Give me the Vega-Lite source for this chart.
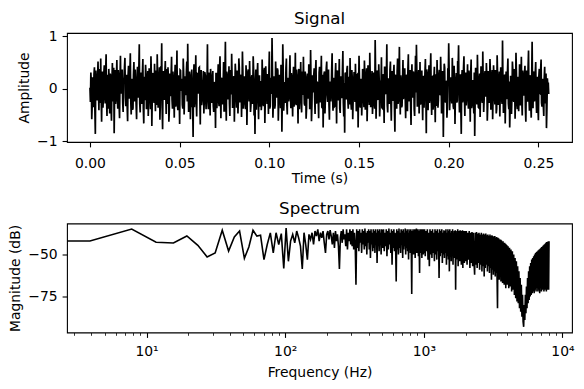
{
"$schema": "https://vega.github.io/schema/vega-lite/v6.json",
"padding": {"left": 8, "top": 10, "right": 10, "bottom": 8},
"config": {
"font": "DejaVu Sans",
"view": {"stroke": "black", "strokeWidth": 1.1},
"axis": {"domain": false, "grid": false, "tickColor": "black", "tickSize": 4.9, "tickWidth": 1.1, "labelColor": "black", "labelFontSize": 13.9, "titleFontSize": 13.9, "titleFontWeight": "normal", "titleColor": "black", "labelFont": "DejaVu Sans", "titleFont": "DejaVu Sans", "labelFlush": false, "labelOverlap": false},
"title": {"fontSize": 16.7, "fontWeight": "normal", "color": "black", "font": "DejaVu Sans", "anchor": "middle", "offset": 4},
"concat": {"spacing": 12.5}
},
"vconcat": [
{
"title": {"text": "Signal", "offset": 1.5},
"width": 505, "height": 109,
"data": {"values": [
{"t":0,"a":0.02},{"t":0.0005,"a":0.31},{"t":0.001,"a":-0.58},{"t":0.0015,"a":0.22},{"t":0.002,"a":-0.35},{"t":0.0025,"a":0.41},{"t":0.003,"a":-0.86},{"t":0.0035,"a":0.18},{"t":0.004,"a":-0.22},{"t":0.0045,"a":0.52},{"t":0.005,"a":-0.41},{"t":0.0055,"a":0.09},{"t":0.006,"a":0.58},{"t":0.0065,"a":-0.63},{"t":0.007,"a":0.33},{"t":0.0075,"a":-0.15},
{"t":0.008,"a":0.45},{"t":0.0085,"a":-0.28},{"t":0.009,"a":0.66},{"t":0.0095,"a":-0.52},{"t":0.01,"a":0.12},{"t":0.0105,"a":0.38},{"t":0.011,"a":-0.47},{"t":0.0115,"a":0.25},{"t":0.012,"a":-0.61},{"t":0.0125,"a":0.49},{"t":0.013,"a":0.05},{"t":0.0135,"a":-0.85},{"t":0.014,"a":0.36},{"t":0.0145,"a":-0.19},{"t":0.015,"a":0.55},{"t":0.0155,"a":-0.38},
{"t":0.016,"a":0.21},{"t":0.0165,"a":-0.56},{"t":0.017,"a":0.63},{"t":0.0175,"a":-0.08},{"t":0.018,"a":0.37},{"t":0.0185,"a":-0.44},{"t":0.019,"a":0.14},{"t":0.0195,"a":0.59},{"t":0.02,"a":-0.33},{"t":0.0205,"a":0.27},{"t":0.021,"a":-0.62},{"t":0.0215,"a":0.44},{"t":0.022,"a":-0.11},{"t":0.0225,"a":0.68},{"t":0.023,"a":-0.49},{"t":0.0235,"a":0.19},
{"t":0.024,"a":-0.37},{"t":0.0245,"a":0.51},{"t":0.025,"a":-0.24},{"t":0.0255,"a":0.08},{"t":0.026,"a":-0.58},{"t":0.0265,"a":0.42},{"t":0.027,"a":-0.17},{"t":0.0275,"a":0.85},{"t":0.028,"a":-0.45},{"t":0.0285,"a":0.31},{"t":0.029,"a":-0.29},{"t":0.0295,"a":0.57},{"t":0.03,"a":-0.66},{"t":0.0305,"a":0.23},{"t":0.031,"a":0.46},{"t":0.0315,"a":-0.39},
{"t":0.032,"a":0.16},{"t":0.0325,"a":-0.52},{"t":0.033,"a":0.39},{"t":0.0335,"a":-0.07},{"t":0.034,"a":0.62},{"t":0.0345,"a":-0.71},{"t":0.035,"a":0.28},{"t":0.0355,"a":-0.18},{"t":0.036,"a":0.48},{"t":0.0365,"a":-0.43},{"t":0.037,"a":0.11},{"t":0.0375,"a":0.66},{"t":0.038,"a":-0.36},{"t":0.0385,"a":0.21},{"t":0.039,"a":-0.59},{"t":0.0395,"a":0.43},
{"t":0.04,"a":0.87},{"t":0.0405,"a":-0.77},{"t":0.041,"a":0.34},{"t":0.0415,"a":-0.21},{"t":0.042,"a":0.53},{"t":0.0425,"a":-0.48},{"t":0.043,"a":0.07},{"t":0.0435,"a":0.41},{"t":0.044,"a":-0.63},{"t":0.0445,"a":0.29},{"t":0.045,"a":-0.14},{"t":0.0455,"a":0.61},{"t":0.046,"a":-0.38},{"t":0.0465,"a":0.17},{"t":0.047,"a":-0.55},{"t":0.0475,"a":0.46},
{"t":0.048,"a":-0.26},{"t":0.0485,"a":0.73},{"t":0.049,"a":-0.41},{"t":0.0495,"a":0.12},{"t":0.05,"a":-0.67},{"t":0.0505,"a":0.35},{"t":0.051,"a":0.02},{"t":0.0515,"a":-0.31},{"t":0.052,"a":0.58},{"t":0.0525,"a":-0.49},{"t":0.053,"a":0.24},{"t":0.0535,"a":-0.12},{"t":0.054,"a":0.52},{"t":0.0545,"a":0.86},{"t":0.055,"a":-0.44},{"t":0.0555,"a":0.33},
{"t":0.056,"a":-0.58},{"t":0.0565,"a":0.19},{"t":0.057,"a":-0.35},{"t":0.0575,"a":-0.92},{"t":0.058,"a":0.47},{"t":0.0585,"a":-0.16},{"t":0.059,"a":0.64},{"t":0.0595,"a":-0.53},{"t":0.06,"a":0.28},{"t":0.0605,"a":-0.09},{"t":0.061,"a":0.41},{"t":0.0615,"a":-0.68},{"t":0.062,"a":0.36},{"t":0.0625,"a":-0.22},{"t":0.063,"a":0.13},{"t":0.0635,"a":-0.47},
{"t":0.064,"a":0.32},{"t":0.0645,"a":-0.18},{"t":0.065,"a":0.26},{"t":0.0655,"a":0.85},{"t":0.066,"a":-0.39},{"t":0.0665,"a":0.21},{"t":0.067,"a":-0.51},{"t":0.0675,"a":0.18},{"t":0.068,"a":-0.27},{"t":0.0685,"a":0.34},{"t":0.069,"a":-0.44},{"t":0.0695,"a":0.08},{"t":0.07,"a":-0.75},{"t":0.0705,"a":0.29},{"t":0.071,"a":-0.12},{"t":0.0715,"a":0.47},
{"t":0.072,"a":-0.33},{"t":0.0725,"a":0.62},{"t":0.073,"a":-0.56},{"t":0.0735,"a":0.19},{"t":0.074,"a":-0.04},{"t":0.0745,"a":0.51},{"t":0.075,"a":-0.42},{"t":0.0755,"a":0.9},{"t":0.076,"a":-0.61},{"t":0.0765,"a":0.27},{"t":0.077,"a":-0.19},{"t":0.0775,"a":0.43},{"t":0.078,"a":-0.52},{"t":0.0785,"a":0.15},{"t":0.079,"a":0.67},{"t":0.0795,"a":-0.35},
{"t":0.08,"a":0.22},{"t":0.0805,"a":-0.63},{"t":0.081,"a":0.48},{"t":0.0815,"a":-0.11},{"t":0.082,"a":0.35},{"t":0.0825,"a":-0.47},{"t":0.083,"a":0.58},{"t":0.0835,"a":-0.26},{"t":0.084,"a":0.09},{"t":0.0845,"a":-0.54},{"t":0.085,"a":0.71},{"t":0.0855,"a":-0.38},{"t":0.086,"a":0.24},{"t":0.0865,"a":-0.16},{"t":0.087,"a":0.45},{"t":0.0875,"a":-0.69},
{"t":0.088,"a":0.31},{"t":0.0885,"a":-0.08},{"t":0.089,"a":0.53},{"t":0.0895,"a":-0.44},{"t":0.09,"a":0.18},{"t":0.0905,"a":-0.29},{"t":0.091,"a":0.62},{"t":0.0915,"a":-0.51},{"t":0.092,"a":-0.86},{"t":0.0925,"a":0.37},{"t":0.093,"a":-0.13},{"t":0.0935,"a":0.49},{"t":0.094,"a":-0.58},{"t":0.0945,"a":0.26},{"t":0.095,"a":0.07},{"t":0.0955,"a":-0.41},
{"t":0.096,"a":0.56},{"t":0.0965,"a":-0.22},{"t":0.097,"a":0.34},{"t":0.0975,"a":-0.65},{"t":0.098,"a":0.43},{"t":0.0985,"a":-0.06},{"t":0.099,"a":0.28},{"t":0.0995,"a":-0.48},{"t":0.1,"a":0.71},{"t":0.1005,"a":-0.33},{"t":0.101,"a":0.15},{"t":0.1015,"a":0.97},{"t":0.102,"a":-0.55},{"t":0.1025,"a":0.24},{"t":0.103,"a":-0.38},{"t":0.1035,"a":0.52},
{"t":0.104,"a":-0.17},{"t":0.1045,"a":0.39},{"t":0.105,"a":-0.61},{"t":0.1055,"a":0.27},{"t":0.106,"a":-0.09},{"t":0.1065,"a":0.46},{"t":0.107,"a":-0.82},{"t":0.1075,"a":0.85},{"t":0.108,"a":-0.42},{"t":0.1085,"a":0.13},{"t":0.109,"a":-0.27},{"t":0.1095,"a":0.58},{"t":0.11,"a":-0.49},{"t":0.1105,"a":0.21},{"t":0.111,"a":-0.14},{"t":0.1115,"a":0.64},
{"t":0.112,"a":-0.37},{"t":0.1125,"a":0.18},{"t":0.113,"a":-0.53},{"t":0.1135,"a":0.42},{"t":0.114,"a":-0.24},{"t":0.1145,"a":0.69},{"t":0.115,"a":-0.31},{"t":0.1155,"a":0.05},{"t":0.116,"a":-0.66},{"t":0.1165,"a":0.38},{"t":0.117,"a":-0.12},{"t":0.1175,"a":0.51},{"t":0.118,"a":-0.45},{"t":0.1185,"a":0.23},{"t":0.119,"a":0.61},{"t":0.1195,"a":-0.28},
{"t":0.12,"a":0.33},{"t":0.1205,"a":-0.57},{"t":0.121,"a":0.16},{"t":0.1215,"a":-0.19},{"t":0.122,"a":0.47},{"t":0.1225,"a":-0.39},{"t":0.123,"a":0.74},{"t":0.1235,"a":-0.62},{"t":0.124,"a":0.26},{"t":0.1245,"a":-0.07},{"t":0.125,"a":0.39},{"t":0.1255,"a":-0.48},{"t":0.126,"a":0.55},{"t":0.1265,"a":-0.23},{"t":0.127,"a":0.11},{"t":0.1275,"a":-0.56},
{"t":0.128,"a":0.42},{"t":0.1285,"a":-0.15},{"t":0.129,"a":0.63},{"t":0.1295,"a":-0.36},{"t":0.13,"a":-0.74},{"t":0.1305,"a":0.29},{"t":0.131,"a":-0.47},{"t":0.1315,"a":0.18},{"t":0.132,"a":0.52},{"t":0.1325,"a":-0.25},{"t":0.133,"a":0.37},{"t":0.1335,"a":-0.59},{"t":0.134,"a":0.14},{"t":0.1345,"a":-0.03},{"t":0.135,"a":0.68},{"t":0.1355,"a":-0.42},
{"t":0.136,"a":0.21},{"t":0.1365,"a":-0.33},{"t":0.137,"a":0.49},{"t":0.1375,"a":-0.66},{"t":0.138,"a":0.35},{"t":0.1385,"a":-0.11},{"t":0.139,"a":0.57},{"t":0.1395,"a":-0.46},{"t":0.14,"a":0.24},{"t":0.1405,"a":-0.18},{"t":0.141,"a":0.72},{"t":0.1415,"a":-0.53},{"t":0.142,"a":-0.84},{"t":0.1425,"a":0.31},{"t":0.143,"a":-0.2},{"t":0.1435,"a":0.44},
{"t":0.144,"a":-0.38},{"t":0.1445,"a":0.16},{"t":0.145,"a":0.59},{"t":0.1455,"a":-0.27},{"t":0.146,"a":0.36},{"t":0.1465,"a":-0.58},{"t":0.147,"a":0.12},{"t":0.1475,"a":-0.09},{"t":0.148,"a":0.48},{"t":0.1485,"a":-0.43},{"t":0.149,"a":0.27},{"t":0.1495,"a":-0.74},{"t":0.15,"a":0.63},{"t":0.1505,"a":-0.31},{"t":0.151,"a":0.19},{"t":0.1515,"a":-0.51},
{"t":0.152,"a":0.38},{"t":0.1525,"a":-0.14},{"t":0.153,"a":0.54},{"t":0.1535,"a":-0.4},{"t":0.154,"a":0.22},{"t":0.1545,"a":-0.62},{"t":0.155,"a":0.45},{"t":0.1555,"a":-0.06},{"t":0.156,"a":0.69},{"t":0.1565,"a":-0.35},{"t":0.157,"a":0.13},{"t":0.1575,"a":-0.48},{"t":0.158,"a":0.31},{"t":0.1585,"a":-0.24},{"t":0.159,"a":0.93},{"t":0.1595,"a":-0.57},
{"t":0.16,"a":0.28},{"t":0.1605,"a":-0.19},{"t":0.161,"a":0.47},{"t":0.1615,"a":-0.53},{"t":0.162,"a":0.16},{"t":0.1625,"a":0.6},{"t":0.163,"a":-0.37},{"t":0.1635,"a":0.25},{"t":0.164,"a":-0.65},{"t":0.1645,"a":0.41},{"t":0.165,"a":-0.1},{"t":0.1655,"a":0.85},{"t":0.166,"a":-0.45},{"t":0.1665,"a":0.2},{"t":0.167,"a":-0.29},{"t":0.1675,"a":0.52},
{"t":0.168,"a":-0.61},{"t":0.1685,"a":0.34},{"t":0.169,"a":-0.16},{"t":0.1695,"a":0.46},{"t":0.17,"a":-0.82},{"t":0.1705,"a":0.27},{"t":0.171,"a":-0.38},{"t":0.1715,"a":0.58},{"t":0.172,"a":-0.21},{"t":0.1725,"a":0.8},{"t":0.173,"a":-0.49},{"t":0.1735,"a":0.13},{"t":0.174,"a":-0.32},{"t":0.1745,"a":0.55},{"t":0.175,"a":-0.07},{"t":0.1755,"a":0.39},
{"t":0.176,"a":-0.56},{"t":0.1765,"a":0.24},{"t":0.177,"a":-0.43},{"t":0.1775,"a":0.66},{"t":0.178,"a":-0.18},{"t":0.1785,"a":0.36},{"t":0.179,"a":-0.69},{"t":0.1795,"a":0.47},{"t":0.18,"a":-0.11},{"t":0.1805,"a":0.29},{"t":0.181,"a":-0.52},{"t":0.1815,"a":0.63},{"t":0.182,"a":0.84},{"t":0.1825,"a":-0.34},{"t":0.183,"a":0.18},{"t":0.1835,"a":-0.47},
{"t":0.184,"a":0.51},{"t":0.1845,"a":-0.26},{"t":0.185,"a":0.35},{"t":0.1855,"a":-0.6},{"t":0.186,"a":0.14},{"t":0.1865,"a":-0.03},{"t":0.187,"a":0.57},{"t":0.1875,"a":-0.85},{"t":0.188,"a":0.3},{"t":0.1885,"a":-0.41},{"t":0.189,"a":0.45},{"t":0.1895,"a":-0.17},{"t":0.19,"a":0.68},{"t":0.1905,"a":-0.5},{"t":0.191,"a":0.23},{"t":0.1915,"a":-0.3},
{"t":0.192,"a":0.42},{"t":0.1925,"a":-0.64},{"t":0.193,"a":0.19},{"t":0.1935,"a":0.55},{"t":0.194,"a":-0.36},{"t":0.1945,"a":0.27},{"t":0.195,"a":-0.12},{"t":0.1955,"a":0.61},{"t":0.196,"a":-0.47},{"t":0.1965,"a":0.34},{"t":0.197,"a":-0.92},{"t":0.1975,"a":0.48},{"t":0.198,"a":-0.23},{"t":0.1985,"a":0.15},{"t":0.199,"a":-0.55},{"t":0.1995,"a":0.39},
{"t":0.2,"a":0.87},{"t":0.2005,"a":-0.41},{"t":0.201,"a":0.22},{"t":0.2015,"a":-0.15},{"t":0.202,"a":0.59},{"t":0.2025,"a":-0.33},{"t":0.203,"a":0.44},{"t":0.2035,"a":-0.67},{"t":0.204,"a":0.1},{"t":0.2045,"a":-0.26},{"t":0.205,"a":0.53},{"t":0.2055,"a":0.83},{"t":0.206,"a":-0.45},{"t":0.2065,"a":0.28},{"t":0.207,"a":-0.86},{"t":0.2075,"a":0.36},
{"t":0.208,"a":-0.19},{"t":0.2085,"a":0.62},{"t":0.209,"a":-0.52},{"t":0.2095,"a":0.31},{"t":0.21,"a":-0.08},{"t":0.2105,"a":0.47},{"t":0.211,"a":-0.38},{"t":0.2115,"a":0.21},{"t":0.212,"a":-0.63},{"t":0.2125,"a":0.56},{"t":0.213,"a":-0.29},{"t":0.2135,"a":0.17},{"t":0.214,"a":-0.47},{"t":0.2145,"a":-0.9},{"t":0.215,"a":0.4},{"t":0.2155,"a":-0.22},
{"t":0.216,"a":0.65},{"t":0.2165,"a":-0.35},{"t":0.217,"a":0.13},{"t":0.2175,"a":-0.54},{"t":0.218,"a":0.43},{"t":0.2185,"a":-0.18},{"t":0.219,"a":0.71},{"t":0.2195,"a":-0.44},{"t":0.22,"a":0.26},{"t":0.2205,"a":-0.1},{"t":0.221,"a":0.49},{"t":0.2215,"a":-0.61},{"t":0.222,"a":0.34},{"t":0.2225,"a":-0.27},{"t":0.223,"a":0.57},{"t":0.2235,"a":-0.4},
{"t":0.224,"a":0.18},{"t":0.2245,"a":-0.58},{"t":0.225,"a":0.45},{"t":0.2255,"a":-0.13},{"t":0.226,"a":0.36},{"t":0.2265,"a":-0.47},{"t":0.227,"a":0.64},{"t":0.2275,"a":-0.31},{"t":0.228,"a":0.09},{"t":0.2285,"a":-0.53},{"t":0.229,"a":0.41},{"t":0.2295,"a":-0.2},{"t":0.23,"a":0.92},{"t":0.2305,"a":-0.46},{"t":0.231,"a":0.27},{"t":0.2315,"a":-0.66},
{"t":0.232,"a":0.33},{"t":0.2325,"a":-0.11},{"t":0.233,"a":0.58},{"t":0.2335,"a":-0.39},{"t":0.234,"a":-0.74},{"t":0.2345,"a":0.25},{"t":0.235,"a":-0.48},{"t":0.2355,"a":0.52},{"t":0.236,"a":-0.17},{"t":0.2365,"a":0.38},{"t":0.237,"a":-0.57},{"t":0.2375,"a":0.69},{"t":0.238,"a":-0.28},{"t":0.2385,"a":0.14},{"t":0.239,"a":-0.43},{"t":0.2395,"a":0.47},
{"t":0.24,"a":-0.32},{"t":0.2405,"a":0.61},{"t":0.241,"a":-0.51},{"t":0.2415,"a":0.2},{"t":0.242,"a":-0.06},{"t":0.2425,"a":0.44},{"t":0.243,"a":-0.63},{"t":0.2435,"a":0.35},{"t":0.244,"a":-0.24},{"t":0.2445,"a":0.73},{"t":0.245,"a":-0.42},{"t":0.2455,"a":0.16},{"t":0.246,"a":-0.55},{"t":0.2465,"a":0.9},{"t":0.247,"a":-0.37},{"t":0.2475,"a":0.29},
{"t":0.248,"a":-0.15},{"t":0.2485,"a":0.51},{"t":0.249,"a":-0.46},{"t":0.2495,"a":0.23},{"t":0.25,"a":-0.6},{"t":0.2505,"a":0.38},{"t":0.251,"a":-0.09},{"t":0.2515,"a":0.56},{"t":0.252,"a":-0.34},{"t":0.2525,"a":0.19},{"t":0.253,"a":-0.52},{"t":0.2535,"a":0.42},{"t":0.254,"a":-0.28},{"t":0.2545,"a":-0.75},{"t":0.255,"a":0.2},{"t":0.2555,"a":0.12},
{"t":0.00025,"a":-0.25},{"t":0.00075,"a":0.12},{"t":0.00125,"a":-0.31},{"t":0.00175,"a":0.05},{"t":0.00225,"a":0.28},{"t":0.00275,"a":-0.42},{"t":0.00325,"a":0.35},{"t":0.00375,"a":-0.18},{"t":0.00425,"a":0.22},{"t":0.00475,"a":-0.09},{"t":0.00525,"a":0.38},{"t":0.00575,"a":-0.27},{"t":0.00625,"a":-0.14},{"t":0.00675,"a":0.2},{"t":0.00725,"a":-0.36},{"t":0.00775,"a":0.31},
{"t":0.00825,"a":-0.12},{"t":0.00875,"a":0.34},{"t":0.00925,"a":-0.21},{"t":0.00975,"a":0.27},{"t":0.01025,"a":-0.38},{"t":0.01075,"a":0.1},{"t":0.01125,"a":0.29},{"t":0.01175,"a":-0.33},{"t":0.01225,"a":0.16},{"t":0.01275,"a":-0.24},{"t":0.01325,"a":0.4},{"t":0.01375,"a":-0.06},{"t":0.01425,"a":-0.29},{"t":0.01475,"a":0.23},{"t":0.01525,"a":-0.15},{"t":0.01575,"a":0.36},
{"t":0.01625,"a":-0.3},{"t":0.01675,"a":0.18},{"t":0.01725,"a":-0.08},{"t":0.01775,"a":0.33},{"t":0.01825,"a":-0.26},{"t":0.01875,"a":0.21},{"t":0.01925,"a":0.42},{"t":0.01975,"a":-0.17},{"t":0.02025,"a":0.07},{"t":0.02075,"a":-0.35},{"t":0.02125,"a":0.25},{"t":0.02175,"a":-0.19},{"t":0.02225,"a":0.3},{"t":0.02275,"a":-0.23},{"t":0.02325,"a":0.11},{"t":0.02375,"a":-0.4},
{"t":0.02425,"a":0.26},{"t":0.02475,"a":-0.13},{"t":0.02525,"a":0.37},{"t":0.02575,"a":-0.32},{"t":0.02625,"a":0.15},{"t":0.02675,"a":-0.05},{"t":0.02725,"a":0.39},{"t":0.02775,"a":-0.28},{"t":0.02825,"a":0.19},{"t":0.02875,"a":-0.1},{"t":0.02925,"a":0.32},{"t":0.02975,"a":-0.37},{"t":0.03025,"a":0.08},{"t":0.03075,"a":-0.22},{"t":0.03125,"a":0.27},{"t":0.03175,"a":-0.16},
{"t":0.03225,"a":0.34},{"t":0.03275,"a":-0.2},{"t":0.03325,"a":0.11},{"t":0.03375,"a":-0.39},{"t":0.03425,"a":0.24},{"t":0.03475,"a":-0.12},{"t":0.03525,"a":0.3},{"t":0.03575,"a":-0.27},{"t":0.03625,"a":0.06},{"t":0.03675,"a":0.35},{"t":0.03725,"a":-0.31},{"t":0.03775,"a":0.18},{"t":0.03825,"a":-0.09},{"t":0.03875,"a":0.41},{"t":0.03925,"a":-0.25},{"t":0.03975,"a":0.13},
{"t":0.04025,"a":-0.36},{"t":0.04075,"a":0.22},{"t":0.04125,"a":-0.14},{"t":0.04175,"a":0.3},{"t":0.04225,"a":-0.07},{"t":0.04275,"a":0.38},{"t":0.04325,"a":-0.29},{"t":0.04375,"a":0.16},{"t":0.04425,"a":-0.4},{"t":0.04475,"a":0.09},{"t":0.04525,"a":0.27},{"t":0.04575,"a":-0.21},{"t":0.04625,"a":0.33},{"t":0.04675,"a":-0.11},{"t":0.04725,"a":0.2},{"t":0.04775,"a":-0.34},
{"t":0.04825,"a":0.15},{"t":0.04875,"a":-0.3},{"t":0.04925,"a":0.26},{"t":0.04975,"a":-0.17},{"t":0.05025,"a":0.36},{"t":0.05075,"a":-0.04},{"t":0.05125,"a":0.19},{"t":0.05175,"a":-0.38},{"t":0.05225,"a":0.28},{"t":0.05275,"a":-0.13},{"t":0.05325,"a":0.07},{"t":0.05375,"a":0.32},{"t":0.05425,"a":-0.24},{"t":0.05475,"a":0.12},{"t":0.05525,"a":-0.33},{"t":0.05575,"a":0.23},
{"t":0.05625,"a":-0.1},{"t":0.05675,"a":0.37},{"t":0.05725,"a":-0.27},{"t":0.05775,"a":0.2},{"t":0.05825,"a":-0.35},{"t":0.05875,"a":0.14},{"t":0.05925,"a":-0.22},{"t":0.05975,"a":0.29},{"t":0.06025,"a":-0.06},{"t":0.06075,"a":0.4},{"t":0.06125,"a":-0.18},{"t":0.06175,"a":0.25},{"t":0.06225,"a":-0.31},{"t":0.06275,"a":0.09},{"t":0.06325,"a":0.34},{"t":0.06375,"a":-0.2},
{"t":0.06425,"a":0.27},{"t":0.06475,"a":-0.39},{"t":0.06525,"a":0.08},{"t":0.06575,"a":-0.25},{"t":0.06625,"a":0.31},{"t":0.06675,"a":-0.12},{"t":0.06725,"a":0.38},{"t":0.06775,"a":-0.16},{"t":0.06825,"a":0.22},{"t":0.06875,"a":-0.33},{"t":0.06925,"a":0.13},{"t":0.06975,"a":-0.06},{"t":0.07025,"a":0.29},{"t":0.07075,"a":-0.37},{"t":0.07125,"a":0.18},{"t":0.07175,"a":-0.23},
{"t":0.07225,"a":0.39},{"t":0.07275,"a":-0.14},{"t":0.07325,"a":0.21},{"t":0.07375,"a":-0.3},{"t":0.07425,"a":0.1},{"t":0.07475,"a":-0.42},{"t":0.07525,"a":0.25},{"t":0.07575,"a":-0.08},{"t":0.07625,"a":0.33},{"t":0.07675,"a":-0.19},{"t":0.07725,"a":0.06},{"t":0.07775,"a":-0.28},{"t":0.07825,"a":0.36},{"t":0.07875,"a":-0.11},{"t":0.07925,"a":0.17},{"t":0.07975,"a":-0.35},
{"t":0.08025,"a":0.24},{"t":0.08075,"a":-0.09},{"t":0.08125,"a":0.31},{"t":0.08175,"a":-0.36},{"t":0.08225,"a":0.14},{"t":0.08275,"a":-0.22},{"t":0.08325,"a":0.41},{"t":0.08375,"a":-0.15},{"t":0.08425,"a":0.27},{"t":0.08475,"a":-0.05},{"t":0.08525,"a":0.33},{"t":0.08575,"a":-0.26},{"t":0.08625,"a":0.12},{"t":0.08675,"a":-0.39},{"t":0.08725,"a":0.2},{"t":0.08775,"a":-0.13},
{"t":0.08825,"a":0.37},{"t":0.08875,"a":-0.24},{"t":0.08925,"a":0.09},{"t":0.08975,"a":-0.31},{"t":0.09025,"a":0.26},{"t":0.09075,"a":-0.17},{"t":0.09125,"a":0.35},{"t":0.09175,"a":-0.07},{"t":0.09225,"a":0.19},{"t":0.09275,"a":-0.4},{"t":0.09325,"a":0.29},{"t":0.09375,"a":-0.12},{"t":0.09425,"a":0.23},{"t":0.09475,"a":-0.34},{"t":0.09525,"a":0.15},{"t":0.09575,"a":-0.28},
{"t":0.09625,"a":0.11},{"t":0.09675,"a":-0.33},{"t":0.09725,"a":0.4},{"t":0.09775,"a":-0.2},{"t":0.09825,"a":0.16},{"t":0.09875,"a":-0.29},{"t":0.09925,"a":0.06},{"t":0.09975,"a":0.3},{"t":0.10025,"a":-0.38},{"t":0.10075,"a":0.21},{"t":0.10125,"a":-0.1},{"t":0.10175,"a":0.34},{"t":0.10225,"a":-0.23},{"t":0.10275,"a":0.13},{"t":0.10325,"a":-0.31},{"t":0.10375,"a":0.27},
{"t":0.10425,"a":-0.08},{"t":0.10475,"a":0.35},{"t":0.10525,"a":-0.26},{"t":0.10575,"a":0.18},{"t":0.10625,"a":-0.37},{"t":0.10675,"a":0.24},{"t":0.10725,"a":-0.13},{"t":0.10775,"a":0.32},{"t":0.10825,"a":-0.2},{"t":0.10875,"a":0.05},{"t":0.10925,"a":0.39},{"t":0.10975,"a":-0.3},{"t":0.11025,"a":0.15},{"t":0.11075,"a":-0.24},{"t":0.11125,"a":0.28},{"t":0.11175,"a":-0.11},
{"t":0.11225,"a":0.3},{"t":0.11275,"a":-0.16},{"t":0.11325,"a":0.22},{"t":0.11375,"a":-0.34},{"t":0.11425,"a":0.09},{"t":0.11475,"a":-0.27},{"t":0.11525,"a":0.37},{"t":0.11575,"a":-0.05},{"t":0.11625,"a":0.25},{"t":0.11675,"a":-0.39},{"t":0.11725,"a":0.17},{"t":0.11775,"a":-0.21},{"t":0.11825,"a":0.33},{"t":0.11875,"a":-0.12},{"t":0.11925,"a":0.06},{"t":0.11975,"a":-0.32},
{"t":0.12025,"a":0.2},{"t":0.12075,"a":-0.37},{"t":0.12125,"a":0.29},{"t":0.12175,"a":-0.1},{"t":0.12225,"a":0.38},{"t":0.12275,"a":-0.23},{"t":0.12325,"a":0.14},{"t":0.12375,"a":-0.3},{"t":0.12425,"a":0.08},{"t":0.12475,"a":0.26},{"t":0.12525,"a":-0.17},{"t":0.12575,"a":0.35},{"t":0.12625,"a":-0.28},{"t":0.12675,"a":0.12},{"t":0.12725,"a":-0.2},{"t":0.12775,"a":0.31},
{"t":0.12825,"a":-0.26},{"t":0.12875,"a":0.13},{"t":0.12925,"a":-0.35},{"t":0.12975,"a":0.27},{"t":0.13025,"a":-0.09},{"t":0.13075,"a":0.33},{"t":0.13125,"a":-0.19},{"t":0.13175,"a":0.4},{"t":0.13225,"a":-0.12},{"t":0.13275,"a":0.22},{"t":0.13325,"a":-0.31},{"t":0.13375,"a":0.07},{"t":0.13425,"a":-0.24},{"t":0.13475,"a":0.36},{"t":0.13525,"a":-0.15},{"t":0.13575,"a":0.18},
{"t":0.13625,"a":-0.34},{"t":0.13675,"a":0.25},{"t":0.13725,"a":-0.06},{"t":0.13775,"a":0.31},{"t":0.13825,"a":-0.22},{"t":0.13875,"a":0.14},{"t":0.13925,"a":-0.38},{"t":0.13975,"a":0.2},{"t":0.14025,"a":-0.1},{"t":0.14075,"a":0.35},{"t":0.14125,"a":-0.27},{"t":0.14175,"a":0.11},{"t":0.14225,"a":0.29},{"t":0.14275,"a":-0.16},{"t":0.14325,"a":0.37},{"t":0.14375,"a":-0.21},
{"t":0.14425,"a":0.23},{"t":0.14475,"a":-0.3},{"t":0.14525,"a":0.1},{"t":0.14575,"a":-0.4},{"t":0.14625,"a":0.19},{"t":0.14675,"a":-0.14},{"t":0.14725,"a":0.32},{"t":0.14775,"a":-0.25},{"t":0.14825,"a":0.07},{"t":0.14875,"a":-0.33},{"t":0.14925,"a":0.28},{"t":0.14975,"a":-0.09},{"t":0.15025,"a":0.21},{"t":0.15075,"a":-0.36},{"t":0.15125,"a":0.16},{"t":0.15175,"a":-0.18},
{"t":0.15225,"a":0.12},{"t":0.15275,"a":-0.35},{"t":0.15325,"a":0.26},{"t":0.15375,"a":-0.05},{"t":0.15425,"a":0.39},{"t":0.15475,"a":-0.2},{"t":0.15525,"a":0.15},{"t":0.15575,"a":-0.31},{"t":0.15625,"a":0.24},{"t":0.15675,"a":-0.13},{"t":0.15725,"a":0.34},{"t":0.15775,"a":-0.26},{"t":0.15825,"a":0.08},{"t":0.15875,"a":-0.38},{"t":0.15925,"a":0.3},{"t":0.15975,"a":-0.1},
{"t":0.16025,"a":0.35},{"t":0.16075,"a":-0.21},{"t":0.16125,"a":0.17},{"t":0.16175,"a":-0.29},{"t":0.16225,"a":0.06},{"t":0.16275,"a":-0.36},{"t":0.16325,"a":0.28},{"t":0.16375,"a":-0.14},{"t":0.16425,"a":0.41},{"t":0.16475,"a":-0.08},{"t":0.16525,"a":0.23},{"t":0.16575,"a":-0.32},{"t":0.16625,"a":0.13},{"t":0.16675,"a":-0.19},{"t":0.16725,"a":0.37},{"t":0.16775,"a":-0.27},
{"t":0.16825,"a":0.09},{"t":0.16875,"a":-0.23},{"t":0.16925,"a":0.3},{"t":0.16975,"a":-0.37},{"t":0.17025,"a":0.18},{"t":0.17075,"a":-0.11},{"t":0.17125,"a":0.34},{"t":0.17175,"a":-0.29},{"t":0.17225,"a":0.2},{"t":0.17275,"a":-0.04},{"t":0.17325,"a":0.26},{"t":0.17375,"a":-0.35},{"t":0.17425,"a":0.14},{"t":0.17475,"a":-0.2},{"t":0.17525,"a":0.32},{"t":0.17575,"a":-0.16},
{"t":0.17625,"a":0.27},{"t":0.17675,"a":-0.12},{"t":0.17725,"a":0.38},{"t":0.17775,"a":-0.24},{"t":0.17825,"a":0.05},{"t":0.17875,"a":-0.31},{"t":0.17925,"a":0.21},{"t":0.17975,"a":-0.17},{"t":0.18025,"a":0.33},{"t":0.18075,"a":-0.39},{"t":0.18125,"a":0.12},{"t":0.18175,"a":-0.07},{"t":0.18225,"a":0.29},{"t":0.18275,"a":-0.22},{"t":0.18325,"a":0.36},{"t":0.18375,"a":-0.13},
{"t":0.18425,"a":-0.3},{"t":0.18475,"a":0.16},{"t":0.18525,"a":-0.2},{"t":0.18575,"a":0.25},{"t":0.18625,"a":-0.36},{"t":0.18675,"a":0.31},{"t":0.18725,"a":-0.09},{"t":0.18775,"a":0.37},{"t":0.18825,"a":-0.18},{"t":0.18875,"a":0.11},{"t":0.18925,"a":-0.27},{"t":0.18975,"a":0.34},{"t":0.19025,"a":-0.14},{"t":0.19075,"a":0.22},{"t":0.19125,"a":-0.4},{"t":0.19175,"a":0.19},
{"t":0.19225,"a":-0.15},{"t":0.19275,"a":0.28},{"t":0.19325,"a":-0.33},{"t":0.19375,"a":0.07},{"t":0.19425,"a":-0.22},{"t":0.19475,"a":0.36},{"t":0.19525,"a":-0.1},{"t":0.19575,"a":0.24},{"t":0.19625,"a":-0.3},{"t":0.19675,"a":0.17},{"t":0.19725,"a":-0.05},{"t":0.19775,"a":0.4},{"t":0.19825,"a":-0.26},{"t":0.19875,"a":0.13},{"t":0.19925,"a":-0.35},{"t":0.19975,"a":0.21},
{"t":0.20025,"a":0.32},{"t":0.20075,"a":-0.18},{"t":0.20125,"a":0.11},{"t":0.20175,"a":-0.28},{"t":0.20225,"a":0.25},{"t":0.20275,"a":-0.39},{"t":0.20325,"a":0.15},{"t":0.20375,"a":-0.08},{"t":0.20425,"a":0.3},{"t":0.20475,"a":-0.23},{"t":0.20525,"a":0.37},{"t":0.20575,"a":-0.13},{"t":0.20625,"a":0.06},{"t":0.20675,"a":-0.34},{"t":0.20725,"a":0.19},{"t":0.20775,"a":-0.26},
{"t":0.20825,"a":0.4},{"t":0.20875,"a":-0.14},{"t":0.20925,"a":0.23},{"t":0.20975,"a":-0.32},{"t":0.21025,"a":0.12},{"t":0.21075,"a":-0.2},{"t":0.21125,"a":0.35},{"t":0.21175,"a":-0.06},{"t":0.21225,"a":0.28},{"t":0.21275,"a":-0.37},{"t":0.21325,"a":0.1},{"t":0.21375,"a":-0.25},{"t":0.21425,"a":0.31},{"t":0.21475,"a":-0.16},{"t":0.21525,"a":0.2},{"t":0.21575,"a":-0.3},
{"t":0.21625,"a":0.17},{"t":0.21675,"a":-0.36},{"t":0.21725,"a":0.29},{"t":0.21775,"a":-0.11},{"t":0.21825,"a":0.38},{"t":0.21875,"a":-0.27},{"t":0.21925,"a":0.08},{"t":0.21975,"a":-0.21},{"t":0.22025,"a":0.34},{"t":0.22075,"a":-0.15},{"t":0.22125,"a":0.24},{"t":0.22175,"a":-0.33},{"t":0.22225,"a":0.13},{"t":0.22275,"a":-0.07},{"t":0.22325,"a":0.3},{"t":0.22375,"a":-0.23},
{"t":0.22425,"a":0.36},{"t":0.22475,"a":-0.1},{"t":0.22525,"a":0.2},{"t":0.22575,"a":-0.3},{"t":0.22625,"a":0.15},{"t":0.22675,"a":-0.38},{"t":0.22725,"a":0.27},{"t":0.22775,"a":-0.18},{"t":0.22825,"a":0.33},{"t":0.22875,"a":-0.05},{"t":0.22925,"a":0.22},{"t":0.22975,"a":-0.29},{"t":0.23025,"a":0.11},{"t":0.23075,"a":-0.36},{"t":0.23125,"a":0.25},{"t":0.23175,"a":-0.12},
{"t":0.23225,"a":-0.2},{"t":0.23275,"a":0.32},{"t":0.23325,"a":-0.28},{"t":0.23375,"a":0.14},{"t":0.23425,"a":-0.34},{"t":0.23475,"a":0.08},{"t":0.23525,"a":-0.16},{"t":0.23575,"a":0.37},{"t":0.23625,"a":-0.25},{"t":0.23675,"a":0.19},{"t":0.23725,"a":-0.11},{"t":0.23775,"a":0.3},{"t":0.23825,"a":-0.39},{"t":0.23875,"a":0.23},{"t":0.23925,"a":-0.07},{"t":0.23975,"a":0.27},
{"t":0.24025,"a":0.14},{"t":0.24075,"a":-0.25},{"t":0.24125,"a":0.35},{"t":0.24175,"a":-0.13},{"t":0.24225,"a":0.28},{"t":0.24275,"a":-0.37},{"t":0.24325,"a":0.09},{"t":0.24375,"a":-0.22},{"t":0.24425,"a":0.4},{"t":0.24475,"a":-0.17},{"t":0.24525,"a":0.26},{"t":0.24575,"a":-0.31},{"t":0.24625,"a":0.18},{"t":0.24675,"a":-0.1},{"t":0.24725,"a":0.33},{"t":0.24775,"a":-0.24},
{"t":0.24825,"a":0.3},{"t":0.24875,"a":-0.19},{"t":0.24925,"a":0.12},{"t":0.24975,"a":-0.35},{"t":0.25025,"a":0.24},{"t":0.25075,"a":-0.08},{"t":0.25125,"a":0.37},{"t":0.25175,"a":-0.27},{"t":0.25225,"a":0.16},{"t":0.25275,"a":-0.33},{"t":0.25325,"a":0.21},{"t":0.25375,"a":-0.14},{"t":0.25425,"a":0.29},{"t":0.25475,"a":-0.38},{"t":0.25525,"a":0.05},{"t":0.25575,"a":-0.1}
]},
"mark": {"type": "line", "color": "black", "strokeWidth": 1.7, "clip": true},
"encoding": {
"x": {"field": "t", "type": "quantitative", "sort": "ascending", "scale": {"domain": [-0.0128, 0.26873], "nice": false, "zero": false}, "axis": {"title": "Time (s)", "values": [0, 0.05, 0.1, 0.15, 0.2, 0.25], "format": ".2f", "labelPadding": 9.5, "titlePadding": 1.5}},
"y": {"field": "a", "type": "quantitative", "scale": {"domain": [-1.015, 1.065], "nice": false, "zero": false}, "axis": {"title": "Amplitude", "values": [-1, 0, 1], "labelExpr": "datum.value < -0.5 ? '−1' : datum.value > 0.5 ? '1' : '0'", "labelPadding": 5, "titlePadding": 5}}
}
},
{
"title": {"text": "Spectrum", "offset": 6},
"width": 505, "height": 109,
"data": {"values": [
{"f":1,"m":-41.9},{"f":3.906,"m":-41.9},{"f":7.813,"m":-34.8},{"f":11.719,"m":-42.7},{"f":15.625,"m":-43.1},{"f":19.531,"m":-38.9},{"f":23.438,"m":-44.5},{"f":27.344,"m":-51.4},{"f":31.25,"m":-49},{"f":35.156,"m":-35.5},{"f":39.063,"m":-47.9},{"f":42.969,"m":-39.5},{"f":46.875,"m":-36},{"f":50.781,"m":-52.2},{"f":54.688,"m":-45.5},{"f":58.594,"m":-35.5},{"f":62.5,"m":-39},{"f":66.406,"m":-38.5},{"f":70.313,"m":-53},{"f":74.219,"m":-44},{"f":78.125,"m":-37.1},{"f":82.031,"m":-49},{"f":85.938,"m":-37},{"f":89.844,"m":-44},{"f":93.75,"m":-37.5},{"f":97.656,"m":-58.3},{"f":101.56,"m":-34.2},{"f":105.47,"m":-54},{"f":109.38,"m":-42},
{"f":113.28,"m":-38},{"f":117.19,"m":-43},{"f":121.09,"m":-36},{"f":125,"m":-40},{"f":128.91,"m":-45},{"f":132.81,"m":-58.6},{"f":136.72,"m":-37},{"f":140.63,"m":-44},{"f":144.53,"m":-53},{"f":148.44,"m":-38},{"f":152.34,"m":-41},{"f":156.25,"m":-37},{"f":160.16,"m":-44},{"f":164.06,"m":-36},{"f":167.97,"m":-39},{"f":171.88,"m":-35},{"f":175.78,"m":-42},{"f":179.69,"m":-37},{"f":183.59,"m":-40},{"f":187.5,"m":-36},{"f":191.41,"m":-43},{"f":195.31,"m":-49},{"f":199.22,"m":-38},{"f":203.13,"m":-36},{"f":207.03,"m":-41},{"f":210.94,"m":-35.5},{"f":214.84,"m":-39},{"f":218.75,"m":-44},{"f":222.66,"m":-37},{"f":226.56,"m":-46},{"f":230.47,"m":-36},{"f":234.38,"m":-42},{"f":238.28,"m":-38},{"f":242.19,"m":-45},{"f":246.09,"m":-58.6},{"f":250,"m":-40},{"f":253.91,"m":-36},{"f":257.81,"m":-43},{"f":261.72,"m":-35},{"f":265.63,"m":-41},{"f":269.53,"m":-38},{"f":273.44,"m":-45},{"f":277.34,"m":-35},{"f":281.25,"m":-47},{"f":285.16,"m":-37},{"f":289.06,"m":-42},{"f":292.97,"m":-35},{"f":296.88,"m":-44},
{"f":300,"m":-36},{"f":304,"m":-45},{"f":308,"m":-35},{"f":312,"m":-47},{"f":316,"m":-37},{"f":320,"m":-44},{"f":324,"m":-68},{"f":328,"m":-35},{"f":332,"m":-46},{"f":336,"m":-36},{"f":340,"m":-48},{"f":344,"m":-35},{"f":348,"m":-43},{"f":352,"m":-37},{"f":356,"m":-49},{"f":360,"m":-35},{"f":364,"m":-44},{"f":368,"m":-36},{"f":372,"m":-47},{"f":376,"m":-34.5},{"f":380,"m":-45},{"f":384,"m":-37},{"f":388,"m":-50},{"f":392,"m":-36},{"f":396,"m":-43},{"f":400,"m":-35},{"f":404,"m":-47},{"f":408,"m":-36},{"f":412,"m":-52},{"f":416,"m":-35},{"f":420,"m":-44},{"f":424,"m":-37},{"f":428,"m":-48},{"f":432,"m":-35},{"f":436,"m":-46},{"f":440,"m":-36},{"f":444,"m":-49},{"f":448,"m":-35},{"f":452,"m":-44},{"f":456,"m":-37},{"f":460,"m":-55},{"f":464,"m":-35},{"f":468,"m":-45},{"f":472,"m":-36},{"f":476,"m":-48},{"f":480,"m":-35},{"f":484,"m":-43},{"f":488,"m":-37},{"f":492,"m":-50},{"f":496,"m":-35},
{"f":500,"m":-36},{"f":506,"m":-46},{"f":512,"m":-35},{"f":518,"m":-48},{"f":524,"m":-37},{"f":530,"m":-45},{"f":536,"m":-35},{"f":542,"m":-51},{"f":548,"m":-36},{"f":554,"m":-47},{"f":560,"m":-34.5},{"f":566,"m":-44},{"f":572,"m":-37},{"f":578,"m":-49},{"f":584,"m":-35},{"f":590,"m":-56},{"f":596,"m":-36},{"f":602,"m":-46},{"f":608,"m":-35},{"f":614,"m":-48},{"f":620,"m":-37},{"f":626,"m":-45},{"f":632,"m":-66},{"f":638,"m":-35},{"f":644,"m":-47},{"f":650,"m":-36},{"f":656,"m":-50},{"f":662,"m":-34.5},{"f":668,"m":-46},{"f":674,"m":-37},{"f":680,"m":-49},{"f":686,"m":-35},{"f":692,"m":-44},{"f":698,"m":-36},{"f":704,"m":-52},{"f":710,"m":-35},{"f":716,"m":-47},{"f":722,"m":-37},{"f":728,"m":-45},{"f":734,"m":-34.5},{"f":740,"m":-50},{"f":746,"m":-36},{"f":752,"m":-46},{"f":758,"m":-35},{"f":764,"m":-48},{"f":770,"m":-37},{"f":776,"m":-53},{"f":782,"m":-35},{"f":788,"m":-45},{"f":794,"m":-36},{"f":800,"m":-49},{"f":806,"m":-35},{"f":812,"m":-47},{"f":818,"m":-73.5},{"f":824,"m":-36},{"f":830,"m":-46},{"f":836,"m":-35},{"f":842,"m":-50},{"f":848,"m":-37},{"f":854,"m":-47},{"f":860,"m":-35},{"f":866,"m":-52},{"f":872,"m":-36},{"f":878,"m":-46},{"f":884,"m":-34.5},{"f":890,"m":-49},{"f":896,"m":-37},{"f":902,"m":-48},{"f":908,"m":-35},{"f":914,"m":-51},{"f":920,"m":-36},{"f":926,"m":-47},{"f":932,"m":-61},{"f":938,"m":-35},{"f":944,"m":-49},{"f":950,"m":-37},{"f":956,"m":-46},{"f":962,"m":-35},{"f":968,"m":-52},{"f":974,"m":-36},{"f":980,"m":-48},{"f":986,"m":-35},{"f":992,"m":-50},{"f":998,"m":-36},
{"f":1000,"m":-49},{"f":1012,"m":-35},{"f":1024,"m":-51},{"f":1036,"m":-36},{"f":1048,"m":-48},{"f":1060,"m":-35},{"f":1072,"m":-53},{"f":1084,"m":-37},{"f":1096,"m":-57},{"f":1108,"m":-35},{"f":1120,"m":-50},{"f":1132,"m":-36},{"f":1144,"m":-52},{"f":1156,"m":-35},{"f":1168,"m":-49},{"f":1180,"m":-37},{"f":1192,"m":-54},{"f":1204,"m":-35},{"f":1216,"m":-50},{"f":1228,"m":-36},{"f":1240,"m":-53},{"f":1252,"m":-35},{"f":1264,"m":-48},{"f":1276,"m":-37},{"f":1288,"m":-64},{"f":1300,"m":-35},{"f":1312,"m":-51},{"f":1324,"m":-36},{"f":1336,"m":-49},{"f":1348,"m":-35},{"f":1360,"m":-55},{"f":1372,"m":-37},{"f":1384,"m":-50},{"f":1396,"m":-35.5},{"f":1408,"m":-52},{"f":1420,"m":-36},{"f":1432,"m":-49},{"f":1444,"m":-35},{"f":1456,"m":-56},{"f":1468,"m":-37},{"f":1480,"m":-51},{"f":1492,"m":-35},{"f":1504,"m":-53},{"f":1516,"m":-36},{"f":1528,"m":-60},{"f":1540,"m":-35},{"f":1552,"m":-50},{"f":1564,"m":-37},{"f":1576,"m":-54},{"f":1588,"m":-36},{"f":1600,"m":-51},{"f":1612,"m":-35},{"f":1624,"m":-56},{"f":1636,"m":-37},{"f":1648,"m":-52},{"f":1660,"m":-36},{"f":1672,"m":-50},{"f":1684,"m":-35.5},{"f":1696,"m":-71},{"f":1708,"m":-37},{"f":1720,"m":-53},{"f":1732,"m":-36},{"f":1744,"m":-51},{"f":1756,"m":-35},{"f":1768,"m":-57},{"f":1780,"m":-37},{"f":1792,"m":-52},{"f":1804,"m":-36},{"f":1816,"m":-54},{"f":1828,"m":-35.5},{"f":1840,"m":-50},{"f":1852,"m":-37},{"f":1864,"m":-56},{"f":1876,"m":-36},{"f":1888,"m":-52},{"f":1900,"m":-35.5},{"f":1912,"m":-58},{"f":1924,"m":-37},{"f":1936,"m":-53},{"f":1948,"m":-36},{"f":1960,"m":-55},{"f":1972,"m":-37},{"f":1984,"m":-51},{"f":1996,"m":-36},
{"f":2000,"m":-54},{"f":2025,"m":-36},{"f":2050,"m":-56},{"f":2075,"m":-37},{"f":2100,"m":-53},{"f":2125,"m":-36},{"f":2150,"m":-58},{"f":2175,"m":-37},{"f":2200,"m":-55},{"f":2225,"m":-36.5},{"f":2250,"m":-57},{"f":2275,"m":-37},{"f":2300,"m":-54},{"f":2325,"m":-62},{"f":2350,"m":-37},{"f":2375,"m":-56},{"f":2400,"m":-36.5},{"f":2425,"m":-58},{"f":2450,"m":-37.5},{"f":2475,"m":-55},{"f":2500,"m":-37},{"f":2525,"m":-59},{"f":2550,"m":-38},{"f":2575,"m":-56},{"f":2600,"m":-37},{"f":2625,"m":-60},{"f":2650,"m":-38},{"f":2675,"m":-57},{"f":2700,"m":-37.5},{"f":2725,"m":-63},{"f":2750,"m":-38},{"f":2775,"m":-58},{"f":2800,"m":-37.5},{"f":2825,"m":-56},{"f":2850,"m":-38.5},{"f":2875,"m":-60},{"f":2900,"m":-38},{"f":2925,"m":-57},{"f":2950,"m":-39},{"f":2975,"m":-61},{"f":3000,"m":-38},{"f":3025,"m":-58},{"f":3050,"m":-39},{"f":3075,"m":-65},{"f":3100,"m":-38.5},{"f":3125,"m":-59},{"f":3150,"m":-39},{"f":3175,"m":-62},{"f":3200,"m":-39.5},{"f":3225,"m":-60},{"f":3250,"m":-39},{"f":3275,"m":-63},{"f":3300,"m":-40},{"f":3325,"m":-61},{"f":3350,"m":-39.5},{"f":3375,"m":-64},{"f":3400,"m":-82},{"f":3425,"m":-40},{"f":3450,"m":-62},{"f":3475,"m":-40.5},{"f":3500,"m":-65},{"f":3525,"m":-41},{"f":3550,"m":-63},{"f":3575,"m":-41},{"f":3600,"m":-66},{"f":3625,"m":-41.5},{"f":3650,"m":-64},{"f":3675,"m":-42},{"f":3700,"m":-67},{"f":3725,"m":-42},{"f":3750,"m":-65},{"f":3775,"m":-43},{"f":3800,"m":-68},{"f":3825,"m":-43},{"f":3850,"m":-66},{"f":3875,"m":-43.5},{"f":3900,"m":-70},{"f":3925,"m":-44},{"f":3950,"m":-67},{"f":3975,"m":-44.5},
{"f":4000,"m":-68},{"f":4050,"m":-45},{"f":4100,"m":-70},{"f":4150,"m":-46},{"f":4200,"m":-69},{"f":4250,"m":-47},{"f":4300,"m":-72},{"f":4350,"m":-48},{"f":4400,"m":-71},{"f":4450,"m":-50},{"f":4500,"m":-74},{"f":4550,"m":-52},{"f":4600,"m":-76},{"f":4650,"m":-54},{"f":4700,"m":-78},{"f":4750,"m":-57},{"f":4800,"m":-79},{"f":4850,"m":-60},{"f":4900,"m":-82},{"f":4950,"m":-64},{"f":5000,"m":-84},{"f":5050,"m":-68},{"f":5100,"m":-87},{"f":5150,"m":-74},{"f":5200,"m":-90},{"f":5250,"m":-93},{"f":5300,"m":-80},{"f":5350,"m":-89},{"f":5400,"m":-74},{"f":5450,"m":-85},{"f":5500,"m":-69},{"f":5550,"m":-82},{"f":5600,"m":-64},{"f":5650,"m":-79},{"f":5700,"m":-60},{"f":5750,"m":-77},{"f":5800,"m":-57},{"f":5850,"m":-75},{"f":5900,"m":-55},{"f":5950,"m":-74},{"f":6000,"m":-53},{"f":6050,"m":-73},{"f":6100,"m":-52},{"f":6150,"m":-72},{"f":6200,"m":-51},{"f":6250,"m":-73},{"f":6300,"m":-50},{"f":6350,"m":-71},{"f":6400,"m":-49},{"f":6450,"m":-72},{"f":6500,"m":-48.5},{"f":6550,"m":-70},{"f":6600,"m":-48},{"f":6650,"m":-72},{"f":6700,"m":-47.5},{"f":6750,"m":-71},{"f":6800,"m":-47},{"f":6850,"m":-73},{"f":6900,"m":-46.5},{"f":6950,"m":-70},{"f":7000,"m":-46},{"f":7050,"m":-72},{"f":7100,"m":-45.5},{"f":7150,"m":-71},{"f":7200,"m":-45},{"f":7250,"m":-70},{"f":7300,"m":-44.5},{"f":7350,"m":-72},{"f":7400,"m":-44},{"f":7450,"m":-71},{"f":7500,"m":-43.5},{"f":7550,"m":-70},{"f":7600,"m":-43},{"f":7650,"m":-72},{"f":7700,"m":-42.5},{"f":7750,"m":-71},{"f":7800,"m":-42.5},{"f":7850,"m":-70},{"f":7900,"m":-42},{"f":7950,"m":-71},{"f":8000,"m":-42}
]},
"mark": {"type": "line", "color": "black", "strokeWidth": 1.6, "clip": true},
"encoding": {
"x": {"field": "f", "type": "quantitative", "scale": {"type": "log", "domain": [2.668, 11716], "nice": false}, "axis": {"title": "Frequency (Hz)", "values": [3,4,5,6,7,8,9,10,20,30,40,50,60,70,80,90,100,200,300,400,500,600,700,800,900,1000,2000,3000,4000,5000,6000,7000,8000,9000,10000], "labelExpr": "datum.value == 10 ? '10¹' : datum.value == 100 ? '10²' : datum.value == 1000 ? '10³' : datum.value == 10000 ? '10⁴' : ''", "tickSize": {"condition": {"test": "indexof([10,100,1000,10000], datum.value) >= 0", "value": 4.9}, "value": 2.8}, "tickWidth": {"condition": {"test": "indexof([10,100,1000,10000], datum.value) >= 0", "value": 1.1}, "value": 0.8}, "labelPadding": 7, "titlePadding": 7.5}},
"y": {"field": "m", "type": "quantitative", "scale": {"domain": [-96.4, -31.5], "nice": false, "zero": false}, "axis": {"title": "Magnitude (dB)", "values": [-75, -50], "format": "d", "labelPadding": 5, "titlePadding": 5}}
}
}
]
}
